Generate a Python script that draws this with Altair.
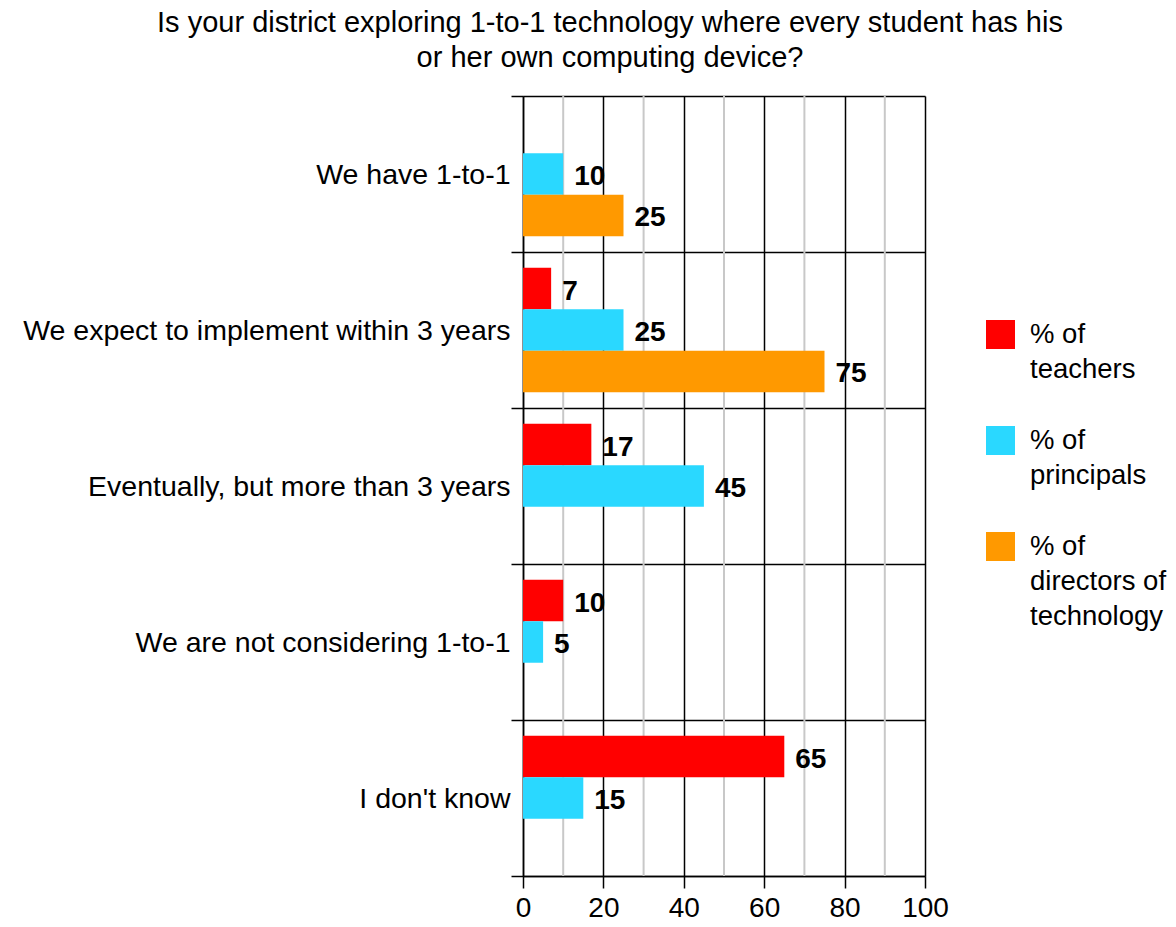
import altair as alt
import pandas as pd

categories = [
    "We have 1-to-1",
    "We expect to implement within 3 years",
    "Eventually, but more than 3 years",
    "We are not considering 1-to-1",
    "I don't know",
]
groups = ["% of teachers", "% of principals", "% of directors of technology"]
teachers = [None, 7, 17, 10, 65]
principals = [10, 25, 45, 5, 15]
directors = [25, 75, None, None, None]
colors = ["#ff0000", "#2ad8ff", "#ff9900"]
major_ticks = [0, 20, 40, 60, 80, 100]
minor_ticks = [10, 30, 50, 70, 90]

rows = []
for g, vals in zip(groups, [teachers, principals, directors]):
    for c, v in zip(categories, vals):
        if v is not None:
            rows.append({"category": c, "group": g, "value": v})
df = pd.DataFrame(rows)
minor_df = pd.DataFrame({"v": minor_ticks})

FONT = "Liberation Sans"

y_enc = alt.Y(
    "category:N",
    sort=categories,
    scale=alt.Scale(paddingInner=0, paddingOuter=0),
    axis=alt.Axis(
        title=None,
        tickBand="extent",
        grid=True,
        gridColor="black",
        gridWidth=1.5,
        tickSize=12,
        tickColor="black",
        tickWidth=1.5,
        domainColor="black",
        domainWidth=1.5,
        labelFontSize=28.5,
        labelLineHeight=28.5,
        labelFont=FONT,
        labelColor="black",
        labelPadding=1,
        labelLimit=600,
    ),
)
x_scale = alt.Scale(domain=[0, 100], nice=False)

minor = alt.Chart(minor_df).mark_rule(color="#c8c8c8", strokeWidth=2).encode(
    x=alt.X("v:Q", scale=x_scale)
)

base = alt.Chart(df).encode(
    y=y_enc,
    yOffset=alt.YOffset("group:N", sort=groups, scale=alt.Scale(domain=groups, paddingOuter=0.38, paddingInner=0)),
)

bars = base.mark_bar().encode(
    x=alt.X(
        "value:Q",
        scale=x_scale,
        axis=alt.Axis(
            title=None,
            values=major_ticks,
            grid=True,
            gridColor="black",
            gridWidth=1.5,
            tickSize=12,
            tickColor="black",
            tickWidth=1.5,
            domainColor="black",
            domainWidth=1.5,
            labelFontSize=28,
            labelLineHeight=28,
            labelFont=FONT,
            labelColor="black",
            labelPadding=6,
            labelFlush=False,
        ),
    ),
    color=alt.Color(
        "group:N",
        sort=groups,
        scale=alt.Scale(domain=groups, range=colors),
        legend=alt.Legend(
            title=None,
            orient="none",
            legendX=463,
            legendY=224,
            symbolType="square",
            symbolSize=841,
            symbolStrokeWidth=0,
            labelFontSize=27.5,
            labelFont=FONT,
            labelColor="black",
            labelExpr="datum.label == '% of teachers' ? ['% of', 'teachers'] : datum.label == '% of principals' ? ['% of', 'principals'] : ['% of', 'directors of', 'technology']",
            labelBaseline="middle",
            labelOffset=15,
            rowPadding=43,
            labelLimit=300,
        ),
    ),
)

labels = base.mark_text(
    align="left", baseline="middle", dx=11, dy=3, fontSize=28, fontWeight="bold", font=FONT, color="black"
).encode(x=alt.X("value:Q", scale=x_scale), text=alt.Text("value:Q"))

chart = (
    alt.layer(minor, bars, labels)
    .properties(
        width=402,
        height=780,
        padding={"left": 14, "top": 1, "right": 0, "bottom": 0},
        title=alt.TitleParams(
            text=[
                "Is your district exploring 1-to-1 technology where every student has his",
                "or her own computing device?",
            ],
            fontSize=29,
            font=FONT,
            fontWeight="normal",
            color="black",
            anchor="middle",
            lineHeight=35,
            offset=9,
            dx=-114,
        ),
    )
    .configure(style={"guide-label": {"lineHeight": 35}})
    .configure_view(strokeWidth=0)
)

chart.save("out.html", embed_options={"renderer": "svg", "actions": False})
